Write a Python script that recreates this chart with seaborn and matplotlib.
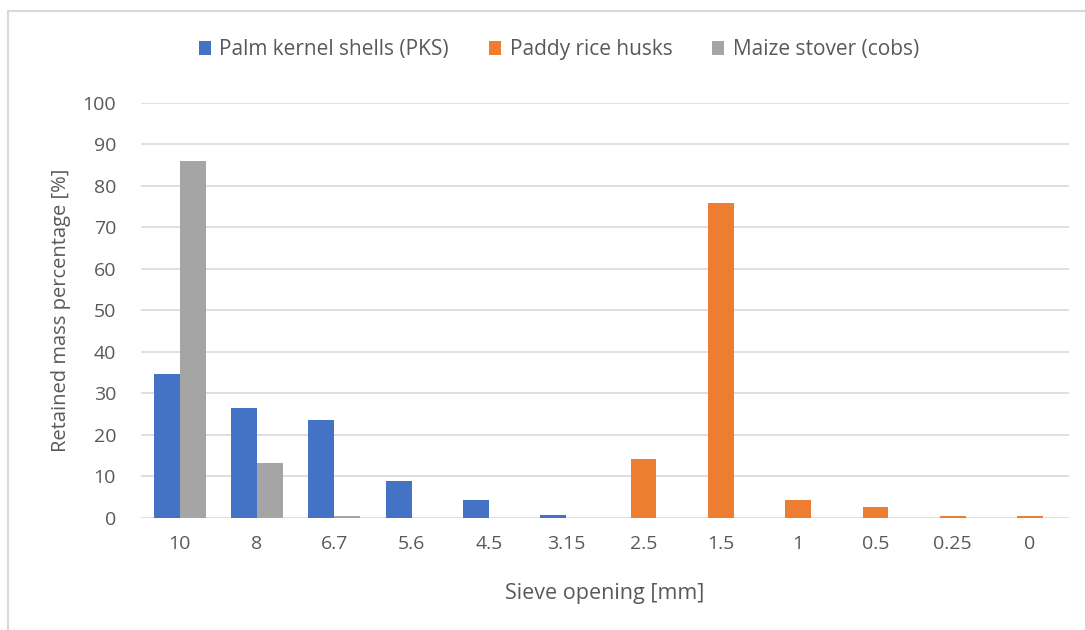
import numpy as np
import matplotlib.pyplot as plt
import seaborn as sns
from matplotlib.patches import Patch
from matplotlib.lines import Line2D

sns.set_style("white")
plt.rcParams['font.family'] = ['Open Sans', 'DejaVu Sans']

# Data
sieve_labels = ['10', '8', '6.7', '5.6', '4.5', '3.15', '2.5', '1.5', '1', '0.5', '0.25', '0']
pks = [34.7, 26.5, 23.6, 8.8, 4.2, 0.8, 0, 0, 0, 0, 0, 0]
rice_husks = [0, 0, 0, 0, 0, 0, 14.2, 75.9, 4.3, 2.7, 0.5, 0.5]
maize_cobs = [86.0, 13.3, 0.4, 0, 0, 0, 0, 0, 0, 0, 0, 0]

series_names = ['Palm kernel shells (PKS)', 'Paddy rice husks', 'Maize stover (cobs)']
colors = ['#4472C4', '#ED7D31', '#A5A5A5']
text_col = '#595959'

fig = plt.figure(figsize=(10.85, 6.3), dpi=100)
ax = fig.add_axes([0.130, 0.178, 0.855, 0.659])

pos = np.arange(len(sieve_labels))
w = 0.335
offsets = [-w / 2, 0, w / 2]
for vals, off, c in zip([pks, rice_husks, maize_cobs], offsets, colors):
    sns.barplot(x=pos + off, y=vals, native_scale=True, width=w, color=c,
                saturation=1, linewidth=0, errorbar=None, ax=ax, zorder=3)

ax.set_xlim(-0.5, len(sieve_labels) - 0.5)
ax.set_ylim(0, 100)
ax.set_yticks(np.arange(0, 101, 10))
ax.set_xticks(pos)
ax.set_xticklabels(sieve_labels)
ax.tick_params(axis='both', length=0, labelsize=14, colors=text_col)
ax.tick_params(axis='x', pad=12)
ax.tick_params(axis='y', pad=18)
ax.yaxis.grid(True, color='#D9D9D9', linewidth=1.2, zorder=0)
for s in ax.spines.values():
    s.set_visible(False)

ax.set_xlabel('Sieve opening [mm]', fontsize=15.5, color=text_col, labelpad=22)
ax.set_ylabel('Retained mass percentage [%]', fontsize=14.5, color=text_col, labelpad=8)

handles = [Patch(facecolor=c, edgecolor='none') for c in colors]
fig.legend(handles, series_names, loc='center', bbox_to_anchor=(0.515, 0.921),
           ncol=3, frameon=False, fontsize=15, handlelength=0.6, handleheight=0.6,
           handletextpad=0.4, columnspacing=1.9, labelcolor=text_col)

# thin chart-area border (top and left visible in the reference)
fig.add_artist(Line2D([8 / 1085, 8 / 1085], [0, 1 - 11 / 630], color='#D9D9D9', linewidth=1.5))
fig.add_artist(Line2D([8 / 1085, 1], [1 - 11 / 630, 1 - 11 / 630], color='#D9D9D9', linewidth=1.5))

fig.savefig('out.png', dpi=100)
